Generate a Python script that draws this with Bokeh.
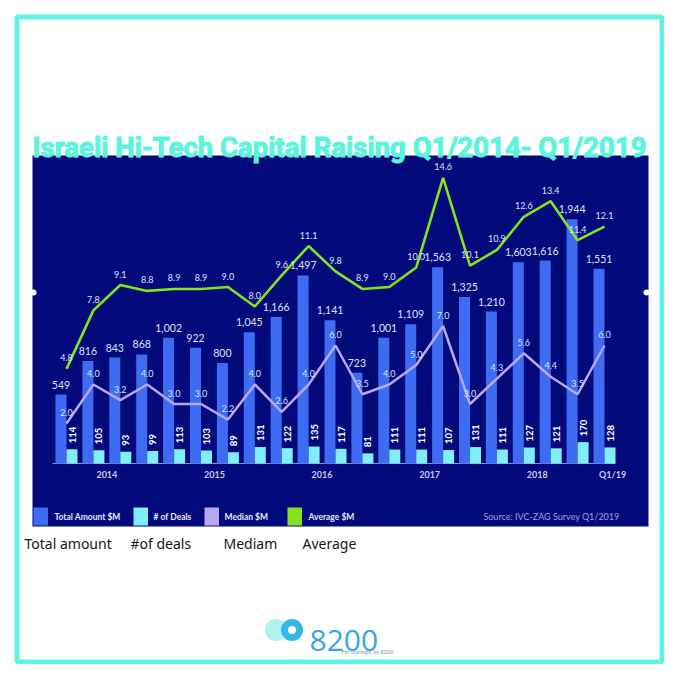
import numpy as np
from bokeh.plotting import figure
from bokeh.models import Range1d, ColumnDataSource
from bokeh.transform import dodge
from bokeh.embed import file_html
from bokeh.resources import INLINE
from bokeh.core.properties import value

# ---------------- data ----------------
quarters = ["Q1/14", "Q2/14", "Q3/14", "Q4/14", "Q1/15", "Q2/15", "Q3/15", "Q4/15",
            "Q1/16", "Q2/16", "Q3/16", "Q4/16", "Q1/17", "Q2/17", "Q3/17", "Q4/17",
            "Q1/18", "Q2/18", "Q3/18", "Q4/18", "Q1/19"]
total_amount = [549, 816, 843, 868, 1002, 922, 800, 1045, 1166, 1497, 1141, 723,
                1001, 1109, 1563, 1325, 1210, 1603, 1616, 1944, 1551]
num_deals = [114, 105, 93, 99, 113, 103, 89, 131, 122, 135, 117, 81,
             111, 111, 107, 131, 111, 127, 121, 170, 128]
median_m = [2.0, 4.0, 3.2, 4.0, 3.0, 3.0, 2.2, 4.0, 2.6, 4.0, 6.0, 3.5,
            4.0, 5.0, 7.0, 3.0, 4.3, 5.6, 4.4, 3.5, 6.0]
average_m = [4.8, 7.8, 9.1, 8.8, 8.9, 8.9, 9.0, 8.0, 9.6, 11.1, 9.8, 8.9,
             9.0, 10.0, 14.6, 10.1, 10.9, 12.6, 13.4, 11.4, 12.1]
year_labels = ["2014", "2015", "2016", "2017", "2018", "Q1/19"]
year_positions = [1.5, 5.5, 9.5, 13.5, 17.5, 20.3]
legend_labels = ["Total Amount $M", "# of Deals", "Median $M", "Average $M"]
bottom_labels = ["Total amount", "#of deals", "Mediam", "Average"]

# ---------------- styles ----------------
NAVY = "#030B7C"
CYAN_FRAME = "#5EF5E3"
C_TOTAL = "#3D6CF3"
C_DEALS = "#80EEF8"
C_MED = "#BBA6F2"
C_AVG = "#80E41E"
LBL = "#DDE0FA"
FONT = value("Lato")

W = H = 664
slot_px = 26.9
x0_px = 66.0          # x of first quarter
base_px = 463.0       # y of the zero line
k_main = 0.1256       # px per $M
k_sec = 19.5          # px per $M (median / average)

x_start = -x0_px / slot_px
p = figure(width=W, height=H, output_backend="svg", toolbar_location=None,
           x_range=Range1d(x_start, x_start + W / slot_px),
           y_range=Range1d(-(H - base_px) / k_main, base_px / k_main),
           x_axis_location=None, y_axis_location=None, min_border=0)
p.extra_y_ranges = {"sec": Range1d(-(H - base_px + 1) / k_sec, (base_px - 1) / k_sec),
                    "py": Range1d(H, 0)}
p.extra_x_ranges = {"px": Range1d(0, W)}
p.grid.visible = False
p.outline_line_color = None
p.background_fill_color = "white"
p.border_fill_color = "white"

# decorations (pixel coordinates)
p.quad(left=[32], right=[648], top=[155], bottom=[526], fill_color=NAVY,
       line_color=None, x_range_name="px", y_range_name="py")
p.scatter(x=[33, 646], y=[292, 292], size=6, fill_color="white", line_color=None,
          x_range_name="px", y_range_name="py")
p.quad(left=[16.5], right=[661.5], top=[16.5], bottom=[661.5], fill_color=None,
       line_color=CYAN_FRAME, line_width=5, x_range_name="px", y_range_name="py")
p.text(x=[339], y=[147], text=["Israeli Hi-Tech Capital Raising Q1/2014- Q1/2019"],
       text_align="center", text_baseline="alphabetic", text_font_size="27.5px",
       text_font=value("Roboto"), text_font_style="bold",
       text_outline_color="#5CF4DE",
       text_color="#5CF4DE", x_range_name="px", y_range_name="py")

# ---------------- chart ----------------
idx = list(range(len(quarters)))
src = ColumnDataSource(dict(
    i=idx, total=total_amount, deals=num_deals, med=median_m, avg=average_m,
    total_lbl=[f"{v:,}" for v in total_amount],
    deals_lbl=[str(v) for v in num_deals],
    med_lbl=[f"{v:.1f}" for v in median_m],
    avg_lbl=[f"{v:.1f}" for v in average_m]))

half = 5.5 / slot_px
bw = 11.0 / slot_px

# axis line
p.segment(x0=[-0.52], y0=[0], x1=[20.41], y1=[0], line_color="#8C8CD0", line_width=1.2)

p.vbar(x=dodge("i", -half, range=p.x_range), top="total", bottom=0, width=bw,
       source=src, fill_color=C_TOTAL, line_color=None)
p.vbar(x=dodge("i", half, range=p.x_range), top="deals", bottom=0, width=bw,
       source=src, fill_color=C_DEALS, line_color=None)
p.line(x="i", y="med", source=src, line_color=C_MED, line_width=2.5, y_range_name="sec")
p.line(x="i", y="avg", source=src, line_color=C_AVG, line_width=2.6, y_range_name="sec")

p.text(x=dodge("i", -half, range=p.x_range), y="total", text="total_lbl", source=src,
       text_align="center", text_baseline="middle", y_offset=-10,
       text_font_size="10.5px", text_font=FONT, text_color=LBL)
p.text(x=dodge("i", half, range=p.x_range), y="deals", text="deals_lbl", source=src,
       angle=np.pi / 2, text_align="left", text_baseline="middle", y_offset=-6,
       text_font_size="9.5px", text_font=FONT, text_font_style="bold", text_color="white")
p.text(x="i", y="med", text="med_lbl", source=src, y_range_name="sec",
       text_align="center", text_baseline="middle", y_offset=-11,
       text_font_size="9px", text_font=FONT, text_color=LBL)
p.text(x="i", y="avg", text="avg_lbl", source=src, y_range_name="sec",
       text_align="center", text_baseline="middle", y_offset=-11,
       text_font_size="9px", text_font=FONT, text_color=LBL)

# year labels
p.text(x=year_positions, y=[474] * len(year_labels), text=year_labels, y_range_name="py",
       text_align="center", text_baseline="middle", text_font_size="9px",
       text_font=FONT, text_font_style="bold", text_color="#C8C8EC")

# legend
leg_left = [33, 133, 204, 287]
leg_colors = [C_TOTAL, C_DEALS, C_MED, C_AVG]
p.quad(left=leg_left, right=[v + 14.5 for v in leg_left], top=[507] * 4, bottom=[525] * 4,
       fill_color=leg_colors, line_color=None, x_range_name="px", y_range_name="py")
p.text(x=[54, 153, 224, 308], y=[516] * 4, text=legend_labels, x_range_name="px",
       y_range_name="py", text_align="left", text_baseline="middle",
       text_font_size="8.5px", text_font=FONT, text_font_style="bold", text_color="#E4E6FA")
p.text(x=[619], y=[516], text=["Source: IVC-ZAG Survey Q1/2019"], x_range_name="px",
       y_range_name="py", text_align="right", text_baseline="middle",
       text_font_size="9px", text_font=FONT, text_color="#9FA0D6")

# handwritten captions under the chart
p.text(x=[24, 130, 223, 302], y=[543] * 4, text=bottom_labels, x_range_name="px",
       y_range_name="py", text_align="left", text_baseline="middle",
       text_font_size="14px", text_font=value("Noto Sans"), text_color="#151515")

# logo
p.scatter(x=[275.5], y=[629.5], size=22, fill_color="#A6F1EE", line_color=None,
          fill_alpha=0.9, x_range_name="px", y_range_name="py")
p.scatter(x=[291.5], y=[629.5], size=22, fill_color="#33B8E8", line_color=None,
          x_range_name="px", y_range_name="py")
p.scatter(x=[291.5], y=[629.5], size=8, fill_color="white", line_color=None,
          x_range_name="px", y_range_name="py")
p.text(x=[309], y=[640], text=["8200"], x_range_name="px", y_range_name="py",
       text_align="left", text_baseline="alphabetic", text_font_size="30px",
       text_font=value("Open Sans"), text_color="#3AA4E6")
p.text(x=[367], y=[651], text=["For Startups, by 8200"], x_range_name="px", y_range_name="py",
       text_align="center", text_baseline="middle", text_font_size="5.5px",
       text_font=FONT, text_color="#7A98B8")

open("out.html", "w").write(file_html(p, INLINE))
